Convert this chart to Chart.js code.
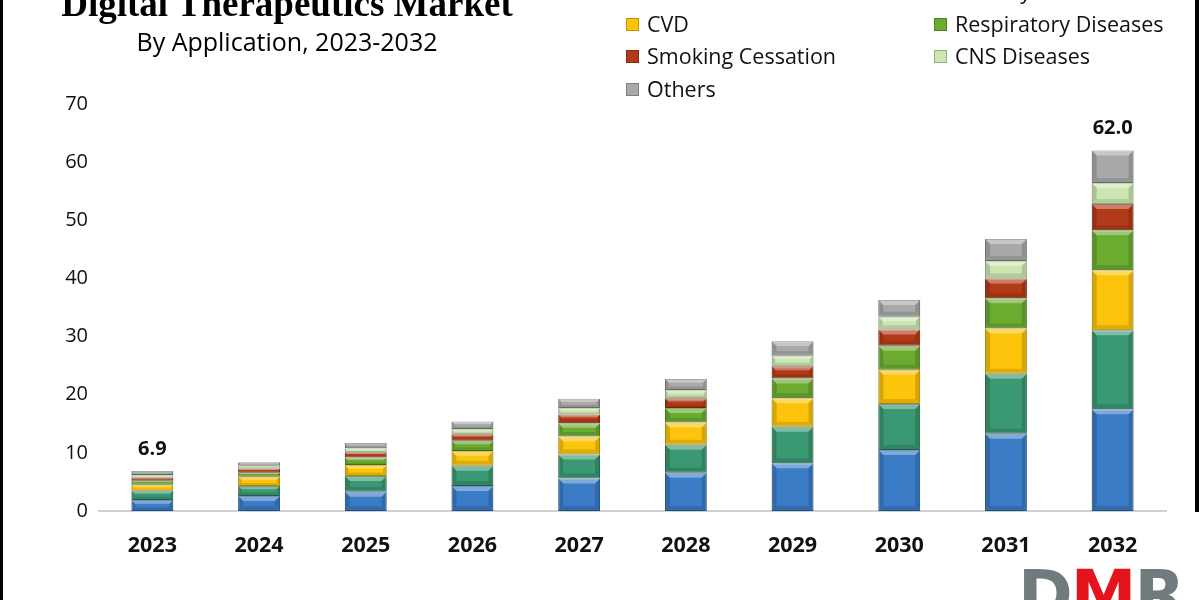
<!DOCTYPE html>
<html>
<head>
<meta charset="utf-8">
<script src="https://cdn.jsdelivr.net/npm/chart.js@4"></script>
<style>
  body { margin: 0; background: #fff; }
  #wrap { position: relative; width: 1200px; height: 600px; overflow: hidden; background: #fff; }
  #chart { position: absolute; left: 0; top: 0; }
  .title { position: absolute; left: 0; width: 574px; text-align: center; color: #000; }
  #t1 { top: -18px; font: bold 37px "Liberation Serif", serif; }
  #t2 { top: 24px; font: 25px "Open Sans", sans-serif; }
  #legend { position: absolute; left: 626px; top: -24px; width: 560px; font: 21.5px "Open Sans", sans-serif; }
  .item { position: absolute; white-space: nowrap; color: #111; }
  .item span { display: inline-block; width: 13px; height: 13px; margin-right: 8px; vertical-align: 1px; box-shadow: inset 0 0 0 1px rgba(0,0,0,0.25); }
  .edge { position: absolute; background: #000; }
  #logo { position: absolute; left: 1018px; top: 556px; font: bold 66px "DejaVu Sans", sans-serif; letter-spacing: -2px; color: #6f7b7c; }
  #logo b { color: #e3141b; }
</style>
</head>
<body>
<div id="wrap">
  <canvas id="chart" width="1200" height="600"></canvas>
  <div class="title" id="t1">Digital Therapeutics Market</div>
  <div class="title" id="t2">By Application, 2023-2032</div>
  <div id="legend"></div>
  <div id="logo">D<b>M</b>R</div>
  <div class="edge" style="left:0;top:0;width:3px;height:600px"></div>
  <div class="edge" style="left:1195px;top:0;width:4px;height:512px"></div>
</div>
<script>
  // Dados (USD bilhões)
  const anos = ['2023', '2024', '2025', '2026', '2027', '2028', '2029', '2030', '2031', '2032'];
  const aplicacoes = ['Diabetes', 'Obesity', 'CVD', 'Respiratory Diseases', 'Smoking Cessation', 'CNS Diseases', 'Others'];
  const diabetes = [1.9, 2.6, 3.3, 4.3, 5.6, 6.6, 8.2, 10.5, 13.3, 17.5];
  const obesity = [1.6, 1.7, 2.7, 3.5, 4.1, 4.8, 6.3, 7.9, 10.3, 13.6];
  const cvd = [1.0, 1.6, 1.9, 2.5, 3.1, 3.8, 4.9, 5.9, 7.8, 10.3];
  const respiratorias = [0.7, 0.7, 1.3, 1.8, 2.3, 2.5, 3.4, 4.1, 5.2, 6.9];
  const tabagismo = [0.5, 0.7, 0.9, 1.1, 1.5, 1.7, 2.1, 2.8, 3.4, 4.5];
  const cns = [0.5, 0.5, 0.7, 0.9, 1.1, 1.4, 1.8, 2.2, 3.0, 3.6];
  const outros = [0.7, 0.6, 0.9, 1.3, 1.6, 1.9, 2.5, 2.9, 3.8, 5.6];
  const ticksY = [0, 10, 20, 30, 40, 50, 60, 70];
  const rotulosTotais = { 0: '6.9', 9: '62.0' };

  const series = [diabetes, obesity, cvd, respiratorias, tabagismo, cns, outros];
  const cores = ['#3a7cc6', '#3a9872', '#fcc40a', '#6aab30', '#b33a18', '#cce6b2', '#a9a9a9'];
  const bordas = ['#27598f', '#276b50', '#c79700', '#4a7d1f', '#7d2610', '#9cbf86', '#787878'];

  // Legenda em duas colunas
  const legenda = document.getElementById('legend');
  aplicacoes.forEach((nome, i) => {
    const el = document.createElement('div');
    el.className = 'item';
    el.style.left = (i % 2 === 0 ? 0 : 308) + 'px';
    el.style.top = (Math.floor(i / 2) * 32.5) + 'px';
    el.innerHTML = '<span style="background:' + cores[i] + '"></span>' + nome;
    legenda.appendChild(el);
  });

  // Bisel: faixa clara em cima, bordas laterais escuras
  const biselPlugin = {
    id: 'bisel',
    afterDatasetsDraw(chart) {
      const ctx = chart.ctx;
      ctx.save();
      chart.data.datasets.forEach((ds, i) => {
        chart.getDatasetMeta(i).data.forEach(bar => {
          const w = bar.width, x0 = bar.x - w / 2, x1 = bar.x + w / 2;
          const top = bar.y, bot = bar.base, h = bot - top;
          const b = Math.min(5, h / 3);
          ctx.fillStyle = 'rgba(255,255,255,0.35)';
          ctx.beginPath();
          ctx.moveTo(x0, top); ctx.lineTo(x1, top); ctx.lineTo(x1 - b, top + b); ctx.lineTo(x0 + b, top + b);
          ctx.closePath(); ctx.fill();
          ctx.fillStyle = 'rgba(0,0,0,0.15)';
          ctx.beginPath();
          ctx.moveTo(x0, top); ctx.lineTo(x0 + b, top + b); ctx.lineTo(x0 + b, bot - b); ctx.lineTo(x0, bot);
          ctx.closePath(); ctx.fill();
          ctx.beginPath();
          ctx.moveTo(x1, top); ctx.lineTo(x1 - b, top + b); ctx.lineTo(x1 - b, bot - b); ctx.lineTo(x1, bot);
          ctx.closePath(); ctx.fill();
          ctx.fillStyle = 'rgba(0,0,0,0.12)';
          ctx.beginPath();
          ctx.moveTo(x0, bot); ctx.lineTo(x0 + b, bot - b); ctx.lineTo(x1 - b, bot - b); ctx.lineTo(x1, bot);
          ctx.closePath(); ctx.fill();
        });
      });
      ctx.restore();
    }
  };

  const totaisPlugin = {
    id: 'totais',
    afterDatasetsDraw(chart) {
      const ctx = chart.ctx;
      const meta = chart.getDatasetMeta(series.length - 1);
      ctx.save();
      ctx.font = 'bold 20px "Open Sans", sans-serif';
      ctx.fillStyle = '#111';
      ctx.textAlign = 'center';
      ctx.textBaseline = 'bottom';
      Object.keys(rotulosTotais).forEach(k => {
        const bar = meta.data[k];
        ctx.fillText(rotulosTotais[k], bar.x, bar.y - 12);
      });
      ctx.restore();
    }
  };

  new Chart(document.getElementById('chart'), {
    type: 'bar',
    data: {
      labels: anos,
      datasets: series.map((dados, i) => ({
        label: aplicacoes[i],
        data: dados,
        backgroundColor: cores[i],
        borderColor: bordas[i],
        borderWidth: 1,
        borderSkipped: false,
        barPercentage: 0.8,
        categoryPercentage: 0.49,
      })),
    },
    options: {
      responsive: false,
      animation: false,
      layout: { padding: { top: 104, right: 34, left: 0, bottom: 0 } },
      plugins: { legend: { display: false }, tooltip: { enabled: false } },
      scales: {
        x: {
          stacked: true,
          grid: { display: false, drawTicks: false },
          border: { color: '#d0d0d0', width: 2 },
          ticks: { color: '#111', padding: 22, font: { family: 'Open Sans', size: 21.5, weight: 'bold' } },
          afterFit: s => { s.height = 89; },
        },
        y: {
          stacked: true,
          min: 0,
          max: 70,
          afterBuildTicks: s => { s.ticks = ticksY.map(v => ({ value: v })); },
          grid: { display: false, drawTicks: false },
          border: { display: false },
          ticks: { color: '#111', padding: 11, font: { family: 'Open Sans', size: 20 } },
          afterFit: s => { s.width = 99; },
        },
      },
    },
    plugins: [biselPlugin, totaisPlugin],
  });
</script>
</body>
</html>
